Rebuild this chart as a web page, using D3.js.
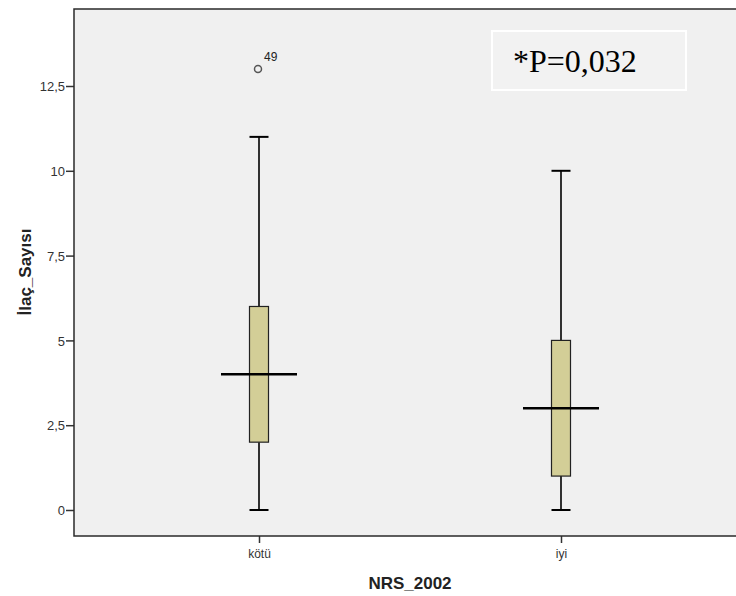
<!DOCTYPE html>
<html><head><meta charset="utf-8">
<script src="https://cdn.jsdelivr.net/npm/d3@7"></script>
<style>body{margin:0;background:#fff;}svg{display:block;}</style>
</head><body>
<svg id="c" width="736" height="596"></svg>
<script>
const categories = ["kötü", "iyi"];
const whiskerLow = [0, 0];
const q1 = [2, 1];
const median = [4, 3];
const q3 = [6, 5];
const whiskerHigh = [11, 10];
const outliers = [{cat: "kötü", value: 13, label: "49"}];
const yTicks = [0, 2.5, 5, 7.5, 10, 12.5];
const yTickLabels = ["0", "2,5", "5", "7,5", "10", "12,5"];
const annotation = "*P=0,032";

const svg = d3.select("#c");
const L = 74, T = 9, R = 746, B = 536;
const y = d3.scaleLinear().domain([0, 12.5]).range([510, 86]);
const x = d3.scalePoint().domain(categories).range([259, 561]);

svg.append("rect").attr("x", L).attr("y", T).attr("width", R - L).attr("height", B - T)
  .attr("fill", "#f0f0f0");

// y axis
const ya = svg.append("g").attr("transform", `translate(${L},0)`)
  .call(d3.axisLeft(y).tickValues(yTicks).tickSize(8).tickSizeOuter(0)
    .tickFormat((d, i) => yTickLabels[i]));
ya.select(".domain").remove();
ya.selectAll(".tick line").attr("stroke", "#333").attr("stroke-width", 1.5);
ya.selectAll(".tick text").attr("font-family", "Liberation Sans, Arial, sans-serif")
  .attr("font-size", 13).attr("fill", "#333").attr("x", -9).attr("dy", "0.36em");

// x axis
const xa = svg.append("g").attr("transform", `translate(0,${B})`)
  .call(d3.axisBottom(x).tickSize(7).tickSizeOuter(0));
xa.select(".domain").remove();
xa.selectAll(".tick line").attr("stroke", "#333").attr("stroke-width", 1.5);
xa.selectAll(".tick text").attr("font-family", "Liberation Sans, Arial, sans-serif")
  .attr("font-size", 12).attr("fill", "#333").attr("y", 22).attr("dy", 0);

// frame
svg.append("path").attr("d", `M${R},${T}H${L}V${B}H${R}`)
  .attr("fill", "none").attr("stroke", "#2a2a2a").attr("stroke-width", 1.5);

const bw = 19, capw = 19, medw = 76;
categories.forEach((c, i) => {
  const cx = x(c);
  const g = svg.append("g");
  g.append("line").attr("x1", cx).attr("x2", cx).attr("y1", y(q3[i])).attr("y2", y(whiskerHigh[i]))
    .attr("stroke", "#000").attr("stroke-width", 1.6);
  g.append("line").attr("x1", cx).attr("x2", cx).attr("y1", y(q1[i])).attr("y2", y(whiskerLow[i]))
    .attr("stroke", "#000").attr("stroke-width", 1.6);
  g.append("line").attr("x1", cx - capw / 2).attr("x2", cx + capw / 2)
    .attr("y1", y(whiskerHigh[i])).attr("y2", y(whiskerHigh[i])).attr("stroke", "#000").attr("stroke-width", 2);
  g.append("line").attr("x1", cx - capw / 2).attr("x2", cx + capw / 2)
    .attr("y1", y(whiskerLow[i])).attr("y2", y(whiskerLow[i])).attr("stroke", "#000").attr("stroke-width", 2);
  g.append("rect").attr("x", cx - bw / 2).attr("width", bw)
    .attr("y", y(q3[i])).attr("height", y(q1[i]) - y(q3[i]))
    .attr("fill", "#d3ce97").attr("stroke", "#222").attr("stroke-width", 1.2);
  g.append("line").attr("x1", cx - medw / 2).attr("x2", cx + medw / 2)
    .attr("y1", y(median[i])).attr("y2", y(median[i])).attr("stroke", "#000").attr("stroke-width", 2.5);
});

outliers.forEach(o => {
  const cx = x(o.cat) - 1;
  svg.append("circle").attr("cx", cx).attr("cy", y(o.value)).attr("r", 3.5)
    .attr("fill", "none").attr("stroke", "#555").attr("stroke-width", 1.5);
  svg.append("text").attr("x", cx + 6).attr("y", y(o.value) - 8)
    .attr("font-family", "Liberation Sans, Arial, sans-serif").attr("font-size", 12).attr("fill", "#222")
    .text(o.label);
});

// annotation box
svg.append("rect").attr("x", 492).attr("y", 31).attr("width", 194).attr("height", 59)
  .attr("fill", "#f2f2f2").attr("stroke", "#fff").attr("stroke-width", 2);
svg.append("text").attr("x", 513).attr("y", 72)
  .attr("font-family", "Liberation Serif, Times New Roman, serif").attr("font-size", 32).attr("fill", "#000")
  .text(annotation);

// axis titles
svg.append("text").attr("x", 410).attr("y", 589).attr("text-anchor", "middle")
  .attr("font-family", "Liberation Sans, Arial, sans-serif").attr("font-size", 17).attr("font-weight", "bold")
  .attr("fill", "#222").text("NRS_2002");
svg.append("text").attr("transform", "translate(31,272) rotate(-90)").attr("text-anchor", "middle")
  .attr("font-family", "Liberation Sans, Arial, sans-serif").attr("font-size", 17).attr("font-weight", "bold")
  .attr("fill", "#222").text("İlaç_Sayısı");
</script>
</body></html>
